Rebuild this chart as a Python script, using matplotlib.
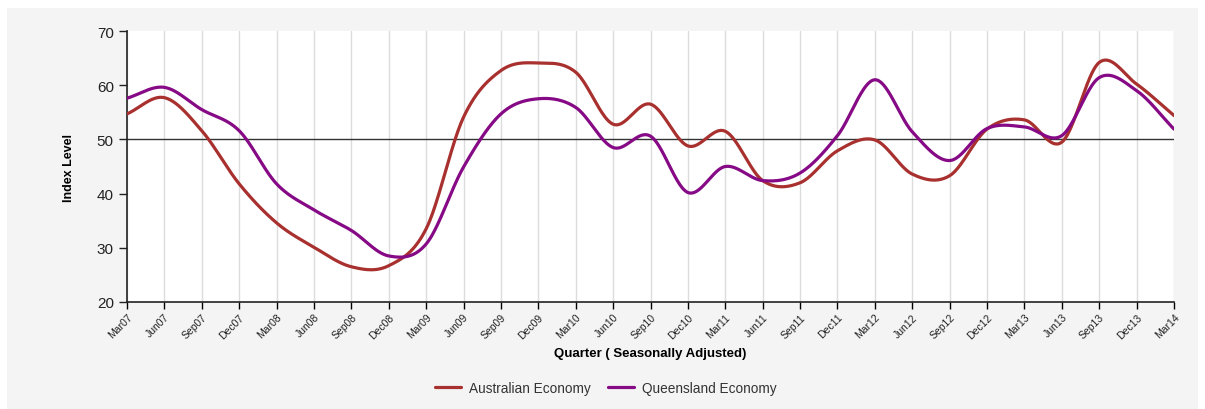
import numpy as np
import matplotlib.pyplot as plt
from matplotlib.patches import Rectangle

plt.rcParams['font.family'] = ['Liberation Sans', 'DejaVu Sans']

quarters = ['Mar07', 'Jun07', 'Sep07', 'Dec07', 'Mar08', 'Jun08', 'Sep08', 'Dec08',
            'Mar09', 'Jun09', 'Sep09', 'Dec09', 'Mar10', 'Jun10', 'Sep10', 'Dec10',
            'Mar11', 'Jun11', 'Sep11', 'Dec11', 'Mar12', 'Jun12', 'Sep12', 'Dec12',
            'Mar13', 'Jun13', 'Sep13', 'Dec13', 'Mar14']

australia = [54.7, 57.7, 51.6, 41.8, 34.6, 30.1, 26.5, 26.7,
             33.5, 54.1, 62.7, 64.1, 62.4, 52.8, 56.5, 48.8,
             51.5, 42.4, 42.0, 47.9, 49.9, 43.6, 43.3, 51.9,
             53.6, 49.5, 64.2, 60.2, 54.4]

queensland = [57.6, 59.6, 55.5, 51.6, 41.8, 37.0, 33.2, 28.5,
              30.7, 44.9, 54.7, 57.5, 55.9, 48.5, 50.6, 40.2,
              45.0, 42.4, 43.8, 50.7, 61.0, 51.4, 46.1, 52.0,
              52.3, 50.7, 61.4, 59.0, 51.9]

series_names = ['Australian Economy', 'Queensland Economy']
series_colors = ['#a8302e', '#860a86']


def smooth_line(x, y, n=40):
    # Catmull-Rom curve through the points, just for drawing the smooth line
    x = np.asarray(x, float)
    y = np.asarray(y, float)
    k = len(y)
    m = np.zeros(k)
    m[1:-1] = (y[2:] - y[:-2]) / 2
    m[0] = y[1] - y[0]
    m[-1] = y[-1] - y[-2]
    xs, ys = [], []
    for i in range(k - 1):
        t = np.linspace(0, 1, n, endpoint=False)
        h00 = 2 * t ** 3 - 3 * t ** 2 + 1
        h10 = t ** 3 - 2 * t ** 2 + t
        h01 = -2 * t ** 3 + 3 * t ** 2
        h11 = t ** 3 - t ** 2
        xs.append(x[i] + t * (x[i + 1] - x[i]))
        ys.append(h00 * y[i] + h10 * m[i] + h01 * y[i + 1] + h11 * m[i + 1])
    xs.append([x[-1]])
    ys.append([y[-1]])
    return np.concatenate(xs), np.concatenate(ys)


W, H = 1205, 410
fig = plt.figure(figsize=(W / 100, H / 100), dpi=100)
fig.patch.set_facecolor('white')
fig.patches.append(Rectangle((7 / W, 0), 1191 / W, 401 / H, transform=fig.transFigure,
                             facecolor='#f4f4f4', edgecolor='none', zorder=-10))

ax = fig.add_axes([127 / W, (H - 303) / H, 1047 / W, 271 / H])
ax.set_zorder(1)
ax.set_facecolor('white')

x = np.arange(len(quarters))
for i in x:
    ax.axvline(i, color='#dcdcdc', lw=1, zorder=1)
ax.axhline(50, color='#333333', lw=1, zorder=2)

for vals, name, col in zip([australia, queensland], series_names, series_colors):
    sx, sy = smooth_line(x, vals)
    ax.plot(sx, sy, color=col, lw=2.3, label=name, zorder=3, solid_capstyle='round')

ax.set_xlim(0, len(quarters) - 1)
ax.set_ylim(20, 70)
ax.set_yticks([20, 30, 40, 50, 60, 70])
ax.set_xticks(x)
ax.set_xticklabels(quarters, rotation=45, ha='right', va='top', rotation_mode='anchor',
                   fontsize=7.5, color='#222222')
ax.tick_params(axis='y', labelsize=11, colors='#222222', length=6, width=1)
ax.tick_params(axis='x', length=5, width=1, pad=2)
for s in ['top', 'right']:
    ax.spines[s].set_visible(False)
for s in ['left', 'bottom']:
    ax.spines[s].set_color('#222222')
    ax.spines[s].set_linewidth(1.2)

ax.set_ylabel('Index Level', fontsize=9, fontweight='bold', labelpad=16)
ax.set_xlabel('Quarter ( Seasonally Adjusted)', fontsize=9.5, fontweight='bold', labelpad=5)

leg = fig.legend(loc='center', bbox_to_anchor=(606 / W, (H - 389) / H), ncol=2,
                 frameon=False, fontsize=9.8, handlelength=1.9, columnspacing=1.3,
                 handletextpad=0.6)
for t in leg.get_texts():
    t.set_color('#333333')

fig.savefig('out.png', dpi=100, facecolor=fig.get_facecolor())
